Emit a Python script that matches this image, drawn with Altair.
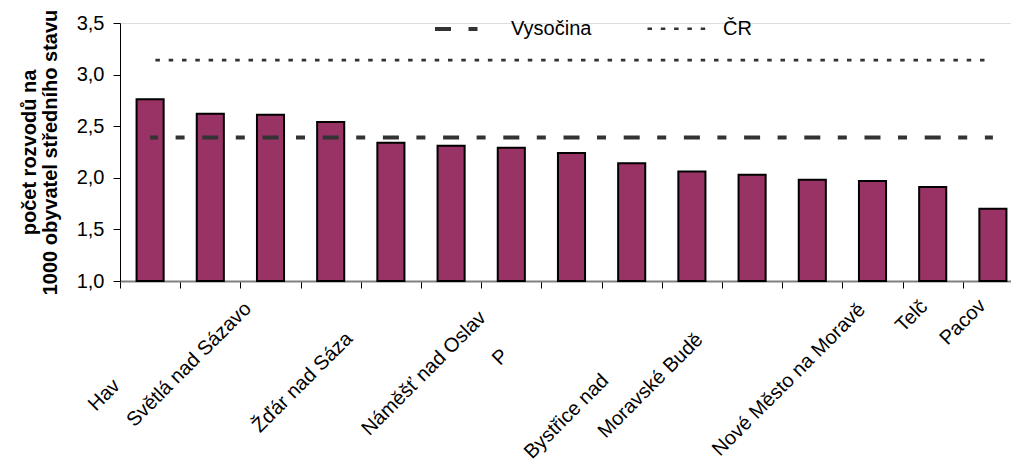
import json
import altair as alt
import pandas as pd

# ---------------- data ----------------
districts = ["Třebíč", "Havlíčkův Brod", "Světlá nad Sázavou", "Jihlava", "Žďár nad Sázavou",
             "Chotěboř", "Náměšť nad Oslavou", "Pelhřimov", "Velké Meziříčí",
             "Bystřice nad Pernštejnem", "Moravské Budějovice", "Humpolec",
             "Nové Město na Moravě", "Telč", "Pacov"]
rates = [2.76, 2.62, 2.61, 2.54, 2.34, 2.31, 2.29, 2.24, 2.14, 2.06, 2.03, 1.98, 1.97, 1.91, 1.70]
# category labels as they are visible (clipped) in the picture
tick_labels = ["", "Hav", "Světlá nad Sázavo", "", "Žďár nad Sáza", "", "Náměšť nad Oslav", "P", "",
               "Bystřice nad", "Moravské Budě", "", "Nové Město na Moravě", "Telč", "Pacov"]
series_names = ["Vysočina", "ČR"]
series_values = [2.39, 3.14]
y_ticks = [1.0, 1.5, 2.0, 2.5, 3.0, 3.5]

bars_df = pd.DataFrame({"district": districts, "rate": rates})
lines_df = pd.DataFrame([{"district": d, "series": s, "rate": v}
                         for s, v in zip(series_names, series_values) for d in districts])

# ---------------- label styling (staggered placement) ----------------
label_dx = [0, -101, -30, 0, -49, 0, -36, -74, 0, -94, -60, 0, -18, -16, -18]
label_dy = [7, 87, 10, 7, 40, 7, 19, 57, 7, 82, 41, 7, 11, 8, 7]

names_js = json.dumps(districts, ensure_ascii=False)
idx = f"indexof({names_js}, datum.value)"
label_expr = f"{json.dumps(tick_labels, ensure_ascii=False)}[{idx}]"
offset_expr = f"{json.dumps(label_dx)}[{idx}]"
padding_expr = f"{json.dumps(label_dy)}[{idx}]"

FONT = "Liberation Sans"

x_enc = alt.X(
    "district:N",
    sort=districts,
    scale=alt.Scale(range=[0, 903], paddingInner=0, paddingOuter=0),
    axis=alt.Axis(
        title=None,
        labelAngle=-45,
        labelAlign="right",
        labelBaseline="top",
        labelFontSize=20,
        labelFont=FONT,
        labelColor="black",
        labelExpr=label_expr,
        labelOffset={"expr": offset_expr},
        labelPadding={"expr": padding_expr},
        labelOverlap=False,
        labelLimit=400,
        labelFlush=False,
        tickBand="extent",
        tickSize=7,
        tickColor="black",
        tickWidth=1,
        domainColor="#808080",
        domainWidth=2,
    ),
)

y_enc = alt.Y(
    "rate:Q",
    scale=alt.Scale(domain=[1, 3.5], nice=False, zero=False),
    axis=alt.Axis(
        values=y_ticks,
        labelExpr="replace(format(datum.value, '.1f'), '.', ',')",
        labelFontSize=20,
        labelFont=FONT,
        labelColor="black",
        labelPadding=9,
        tickSize=7,
        tickColor="black",
        domainColor="black",
        domainWidth=1,
        grid=False,
        title=["počet rozvodů na", "1000 obyvatel středního stavu"],
        titleFontSize=20,
        titleFont=FONT,
        titleFontWeight="bold",
        titleColor="black",
        titleLineHeight=21,
        titlePadding=16,
    ),
)

bars = alt.Chart(bars_df).mark_bar(
    width=alt.RelativeBandSize(0.45), fill="#993366", stroke="black", strokeWidth=2
).encode(x=x_enc, y=y_enc, y2=alt.datum(1.0))

leg = alt.Legend(
    title=None,
    orient="none",
    legendX=313,
    legendY=-26,
    direction="horizontal",
    symbolType="stroke",
    symbolSize=3600,
    symbolStrokeColor="#333333",
    labelFontSize=20,
    labelFont=FONT,
    labelColor="black",
    labelOffset=14,
    columnPadding=50,
)

lines = alt.Chart(lines_df).mark_line(stroke="#333333", strokeDashOffset=8).encode(
    x=x_enc,
    y=y_enc,
    strokeDash=alt.StrokeDash(
        "series:N",
        scale=alt.Scale(domain=series_names, range=[[16, 17.5, 9, 17.7], [4.5, 8.8]]),
        legend=leg,
    ),
    strokeWidth=alt.StrokeWidth(
        "series:N",
        scale=alt.Scale(domain=series_names, range=[4, 2.7]),
        legend=leg,
    ),
)

chart = alt.layer(bars, lines).properties(
    width=891,
    height=258,
    autosize=alt.AutoSizeParams(type="none"),
    padding={"left": 112, "top": 15, "right": 0, "bottom": 180},
    background="white",
).configure_view(stroke=None).configure(font=FONT)

chart.save("out.html", embed_options={"renderer": "svg", "actions": False})
